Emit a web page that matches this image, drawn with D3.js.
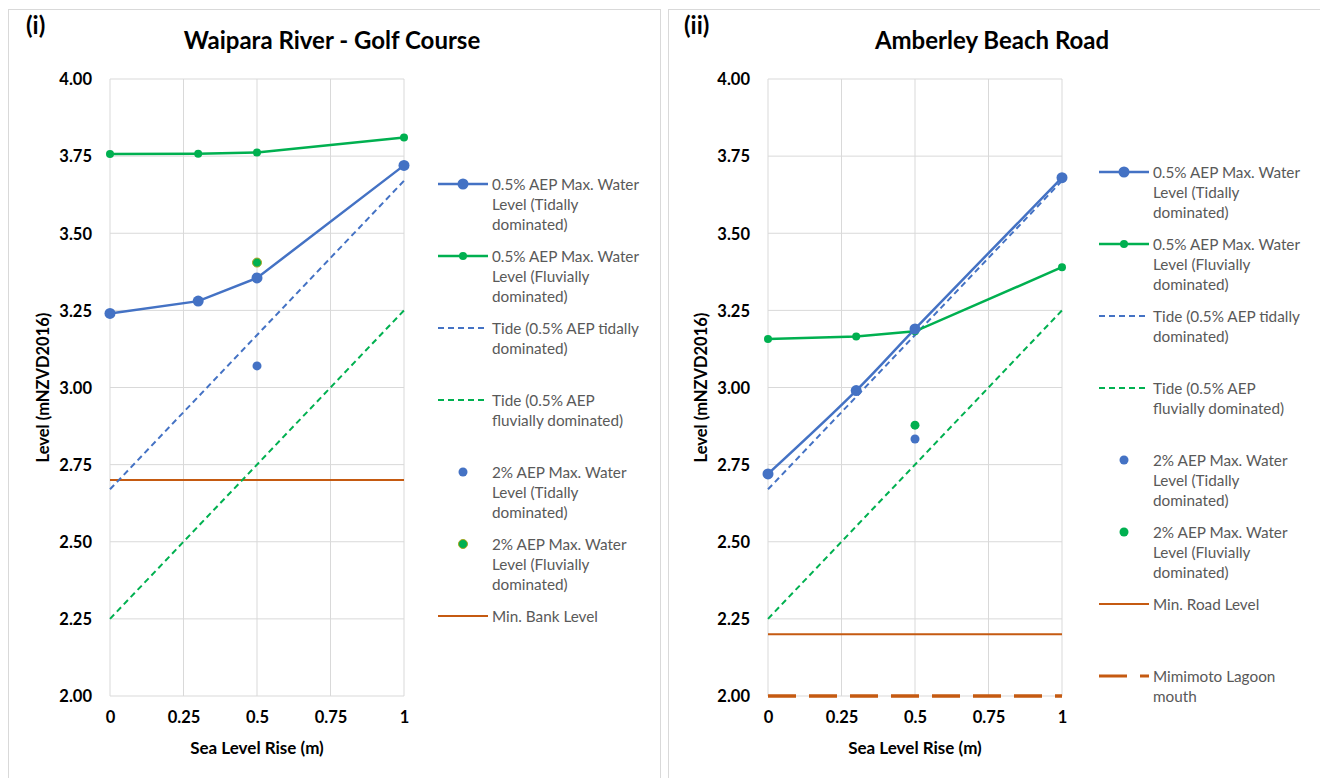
<!DOCTYPE html>
<html>
<head>
<meta charset="utf-8">
<script src="https://cdn.jsdelivr.net/npm/d3@7"></script>
<style>
  body { margin: 0; background: #fff; font-family: Lato, "Open Sans", sans-serif; }
  svg text { font-family: Lato, "Open Sans", sans-serif; }
</style>
</head>
<body>
<svg id="chart" width="1320" height="778"></svg>
<script>
// Data
var slr = [0, 0.3, 0.5, 1];
var yTicks = [2.00, 2.25, 2.50, 2.75, 3.00, 3.25, 3.50, 3.75, 4.00];
var xTicks = [0, 0.25, 0.5, 0.75, 1];
var xTickLabels = ["0", "0.25", "0.5", "0.75", "1"];

// (i) Waipara River - Golf Course
var waiparaTidal = [3.24, 3.28, 3.355, 3.72];
var waiparaFluvial = [3.757, 3.758, 3.762, 3.81];
var waiparaTideTidal = [2.67, 3.67];
var waiparaTideFluvial = [2.25, 3.25];
var waipara2pcTidal = 3.07;
var waipara2pcFluvial = 3.405;
var waiparaBank = 2.70;

// (ii) Amberley Beach Road
var amberleyTidal = [2.72, 2.99, 3.19, 3.68];
var amberleyFluvial = [3.157, 3.165, 3.182, 3.39];
var amberleyTideTidal = [2.67, 3.67];
var amberleyTideFluvial = [2.25, 3.25];
var amberley2pcTidal = 2.833;
var amberley2pcFluvial = 2.878;
var amberleyRoad = 2.20;
var amberleyLagoon = 2.00;

var tideX = [0, 1];

var BLUE = "#4472C4", GREEN = "#00B050", ORANGE = "#C55A11";

var svg = d3.select("#chart");

function drawPanel(cfg) {
  var g = svg.append("g").attr("transform", "translate(" + cfg.ox + ",0)");

  // panel frame
  g.append("rect")
    .attr("x", cfg.frameX).attr("y", 9.5)
    .attr("width", cfg.frameW).attr("height", 780)
    .attr("fill", "white").attr("stroke", "#d9d9d9").attr("stroke-width", 1);

  var x = d3.scaleLinear().domain([0, 1]).range([110, 404]);
  var y = d3.scaleLinear().domain([2, 4]).range([696, 79]);

  // gridlines
  g.selectAll(".hgrid").data(yTicks).enter().append("line")
    .attr("x1", x(0)).attr("x2", x(1))
    .attr("y1", function(d) { return y(d); }).attr("y2", function(d) { return y(d); })
    .attr("stroke", "#d9d9d9").attr("stroke-width", 1);
  g.selectAll(".vgrid").data(xTicks).enter().append("line")
    .attr("x1", function(d) { return x(d); }).attr("x2", function(d) { return x(d); })
    .attr("y1", y(4)).attr("y2", y(2))
    .attr("stroke", "#d9d9d9").attr("stroke-width", 1);

  // axes (labels only)
  var yAxis = g.append("g").attr("transform", "translate(" + (x(0) - 18) + ",0)")
    .call(d3.axisLeft(y).tickValues(yTicks).tickFormat(d3.format(".2f")).tickSize(0));
  yAxis.select(".domain").remove();
  yAxis.selectAll("text").attr("font-size", 16.5).attr("font-weight", "bold")
    .attr("fill", "#000").attr("dx", 0).attr("dy", "0.35em").attr("x", 0);

  var xAxis = g.append("g").attr("transform", "translate(0," + (y(2) + 15) + ")")
    .call(d3.axisBottom(x).tickValues(xTicks)
      .tickFormat(function(d, i) { return xTickLabels[i]; }).tickSize(0));
  xAxis.select(".domain").remove();
  xAxis.selectAll("text").attr("font-size", 16.5).attr("font-weight", "bold")
    .attr("fill", "#000").attr("y", 0).attr("dy", "0.71em");

  // axis titles
  g.append("text").attr("x", (x(0) + x(1)) / 2).attr("y", 754)
    .attr("text-anchor", "middle").attr("font-size", 17).attr("font-weight", "bold")
    .text("Sea Level Rise (m)");
  g.append("text")
    .attr("transform", "translate(49," + y(3) + ") rotate(-90)")
    .attr("text-anchor", "middle").attr("font-size", 16.5).attr("font-weight", "bold")
    .text("Level (mNZVD2016)");

  // titles
  g.append("text").attr("x", 26).attr("y", 34)
    .attr("font-size", 24).attr("font-weight", "bold").text(cfg.tag);
  g.append("text").attr("x", cfg.titleX).attr("y", 49)
    .attr("text-anchor", "middle").attr("font-size", 24).attr("font-weight", "bold")
    .text(cfg.title);

  var line = d3.line().x(function(d) { return x(d[0]); }).y(function(d) { return y(d[1]); });

  function hline(v, color, dash, width) {
    g.append("path").datum([[0, v], [1, v]])
      .attr("d", line).attr("fill", "none").attr("stroke", color)
      .attr("stroke-width", width).attr("stroke-dasharray", dash);
  }

  // horizontal reference levels
  cfg.levels.forEach(function(l) { hline(l.value, ORANGE, l.dash, l.width); });

  // tide lines
  g.append("path").datum(d3.zip(tideX, cfg.tideFluvial))
    .attr("d", line).attr("fill", "none").attr("stroke", GREEN)
    .attr("stroke-width", 2).attr("stroke-dasharray", "6,4");
  g.append("path").datum(d3.zip(tideX, cfg.tideTidal))
    .attr("d", line).attr("fill", "none").attr("stroke", BLUE)
    .attr("stroke-width", 2).attr("stroke-dasharray", "6,4");

  // 0.5% AEP series
  function series(vals, color, r, curve) {
    var pts = d3.zip(slr, vals);
    g.append("path").datum(pts)
      .attr("d", line.curve(curve || d3.curveLinear)).attr("fill", "none")
      .attr("stroke", color).attr("stroke-width", 2.5);
    line.curve(d3.curveLinear);
    g.selectAll(null).data(pts).enter().append("circle")
      .attr("cx", function(d) { return x(d[0]); }).attr("cy", function(d) { return y(d[1]); })
      .attr("r", r).attr("fill", color);
  }
  series(cfg.fluvial, GREEN, 4);
  series(cfg.tidal, BLUE, 5.5, cfg.tidalCurve);

  // 2% AEP points
  g.append("circle").attr("cx", x(0.5)).attr("cy", y(cfg.pcTidal)).attr("r", 4.5).attr("fill", BLUE);
  g.append("circle").attr("cx", x(0.5)).attr("cy", y(cfg.pcFluvial)).attr("r", 4.5)
    .attr("fill", GREEN).attr("stroke", cfg.pcFluvialStroke).attr("stroke-width", 1);

  // legend
  var lg = g.append("g").attr("transform", "translate(" + cfg.legX + "," + cfg.legY + ")");
  cfg.legend.forEach(function(item, i) {
    var row = lg.append("g").attr("transform", "translate(0," + (i * 72) + ")");
    if (item.type === "line") {
      row.append("line").attr("x1", 0).attr("x2", 50).attr("y1", 0).attr("y2", 0)
        .attr("stroke", item.color).attr("stroke-width", item.width || 2.5)
        .attr("stroke-dasharray", item.dash || null);
      if (item.r) row.append("circle").attr("cx", 25).attr("cy", 0).attr("r", item.r).attr("fill", item.color);
    } else {
      row.append("circle").attr("cx", 25).attr("cy", 0).attr("r", 4.5).attr("fill", item.color)
        .attr("stroke", item.stroke || null);
    }
    item.text.forEach(function(t, j) {
      row.append("text").attr("x", 54).attr("y", j * 20 + 5.5)
        .attr("font-size", 15.3).attr("fill", "#595959").text(t);
    });
  });
}

var legendCommon = [
  { type: "line", color: BLUE, r: 5.5, text: ["0.5% AEP Max. Water", "Level (Tidally", "dominated)"] },
  { type: "line", color: GREEN, r: 4, text: ["0.5% AEP Max. Water", "Level (Fluvially", "dominated)"] },
  { type: "line", color: BLUE, dash: "6,4", width: 2, text: ["Tide (0.5% AEP tidally", "dominated)"] },
  { type: "line", color: GREEN, dash: "6,4", width: 2, text: ["Tide (0.5% AEP", "fluvially dominated)"] },
  { type: "dot", color: BLUE, text: ["2% AEP Max. Water", "Level (Tidally", "dominated)"] }
];

drawPanel({
  ox: 0, frameX: 8.5, frameW: 652, tag: "(i)", title: "Waipara River - Golf Course", titleX: 332,
  tidal: waiparaTidal, fluvial: waiparaFluvial,
  tideTidal: waiparaTideTidal, tideFluvial: waiparaTideFluvial,
  pcTidal: waipara2pcTidal, pcFluvial: waipara2pcFluvial, pcFluvialStroke: "#A5A520",
  levels: [{ value: waiparaBank, dash: null, width: 2 }],
  legX: 438, legY: 184,
  legend: legendCommon.concat([
    { type: "dot", color: GREEN, stroke: "#A5A520", text: ["2% AEP Max. Water", "Level (Fluvially", "dominated)"] },
    { type: "line", color: ORANGE, width: 2, text: ["Min. Bank Level"] }
  ])
});

drawPanel({
  ox: 658, frameX: 10.5, frameW: 660, tag: "(ii)", title: "Amberley Beach Road", titleX: 334,
  tidal: amberleyTidal, fluvial: amberleyFluvial, tidalCurve: d3.curveCatmullRom,
  tideTidal: amberleyTideTidal, tideFluvial: amberleyTideFluvial,
  pcTidal: amberley2pcTidal, pcFluvial: amberley2pcFluvial, pcFluvialStroke: null,
  levels: [{ value: amberleyRoad, dash: null, width: 2 }, { value: amberleyLagoon, dash: "28,13", width: 3.5 }],
  legX: 441, legY: 172,
  legend: legendCommon.concat([
    { type: "dot", color: GREEN, text: ["2% AEP Max. Water", "Level (Fluvially", "dominated)"] },
    { type: "line", color: ORANGE, width: 2, text: ["Min. Road Level"] },
    { type: "line", color: ORANGE, width: 3, dash: "28,13", text: ["Mimimoto Lagoon", "mouth"] }
  ])
});
</script>
</body>
</html>
